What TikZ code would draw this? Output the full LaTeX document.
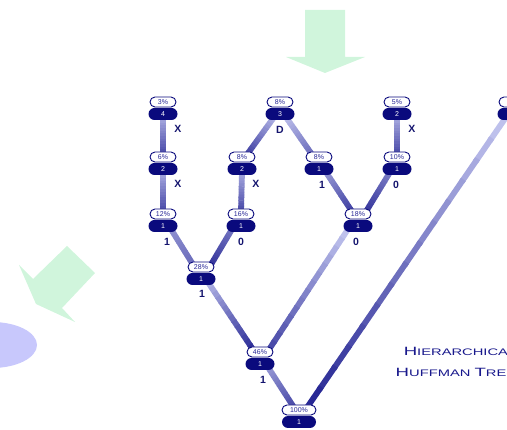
\documentclass[tikz,border=0pt]{standalone}
\usepackage{fontspec}
\setmainfont{Liberation Sans}
\usetikzlibrary{calc}
\pgfdeclarelayer{bg}
\pgfsetlayers{bg,main}
\definecolor{navy}{RGB}{10,10,125}
\definecolor{pcttext}{RGB}{40,40,150}
\definecolor{bittext}{RGB}{20,20,110}
\definecolor{edgeL}{RGB}{205,208,245}
\definecolor{edgeD}{RGB}{25,25,140}
\definecolor{mint}{RGB}{208,245,220}
\definecolor{lav}{RGB}{200,200,252}
\definecolor{titlec}{RGB}{25,25,140}
\newcommand\hn[5][]{%
  \node[pct,#1] (#2) at (#3) {#4};
  \node[num,#1] (#2d) at ([yshift=-12pt]#2.center) {#5};}
\newcommand\gedge[4]{%
  \foreach \i in {0,...,13}{%
    \pgfmathsetmacro\ta{\i/14}%
    \pgfmathsetmacro\tb{(\i+1)/14+0.01}%
    \pgfmathsetmacro\pp{#3+(#4-#3)*(\i+0.5)/14}%
    \draw[edgeline, draw=edgeD!\pp!edgeL] ($(#1)!\ta!(#2)$) -- ($(#1)!\tb!(#2)$);}}
\newcommand\bigc[1]{{\fontsize{12}{14}\selectfont #1}}
\begin{document}
\begin{tikzpicture}[x=1pt,y=-1pt,
  pct/.style={draw=navy, line width=0.9pt, fill=white, rounded corners=5pt,
    minimum width=26pt, minimum height=10pt, inner sep=0pt, text=pcttext,
    font=\fontsize{7}{8}\selectfont},
  num/.style={fill=navy, rounded corners=6pt, minimum width=29pt,
    minimum height=12pt, inner sep=0pt, text=white,
    font=\fontsize{7}{8}\selectfont},
  bit/.style={text=bittext, inner sep=0pt, font=\fontsize{10.5}{12}\selectfont\bfseries},
  edgeline/.style={line width=5.8pt},
  title/.style={text=titlec, inner sep=0pt, anchor=base, font=\fontsize{9.5}{12}\selectfont}]
\useasboundingbox (0,0) rectangle (507,430);
\clip (0,0) rectangle (507,430);

% decorative shapes
\fill[mint] (305,10) -- (345,10) -- (345,57) -- (365,57) -- (325,73) -- (286,57) -- (305,57) -- cycle;
\fill[mint] (67,246) -- (95,273) -- (62,308) -- (75,322) -- (36,304) -- (19,265) -- (33,279) -- cycle;
\fill[lav] (-8,345) ellipse [x radius=45pt, y radius=23pt];

% tree nodes
\hn{A}{163,102}{3\%}{4}
\hn{B}{163,157}{6\%}{2}
\hn{C}{163,214}{12\%}{1}
\hn{D}{242,157}{8\%}{2}
\hn{E}{241,214}{16\%}{1}
\hn{F}{201,267}{28\%}{1}
\hn{G}{280,102}{8\%}{3}
\hn{H}{319,157}{8\%}{1}
\hn{I}{397,102}{5\%}{2}
\hn{J}{397,157}{10\%}{1}
\hn{K}{358,214}{18\%}{1}
\hn{L}{260,352}{46\%}{1}
\hn[minimum width=34pt]{M}{299,410}{100\%}{1}
\hn{N}{512,102}{5\%}{}

% bit labels
\node[bit] (xa) at (178,129) {X};
\node[bit] (xb) at (178,184) {X};
\node[bit] (xd) at (256,184) {X};
\node[bit] (xi) at (412,129) {X};
\node[bit] (dg) at (280,130) {D};
\node[bit] (bc) at (167,242) {1};
\node[bit] (be) at (241,242) {0};
\node[bit] (bf) at (202,294) {1};
\node[bit] (bh) at (322,185) {1};
\node[bit] (bj) at (396,185) {0};
\node[bit] (bk) at (356,242) {0};
\node[bit] (bl) at (263,380) {1};

% title (runs off the right edge, as in the reference)
\node[title] (ttl1) at (460,356) {\scalebox{1.55}[1]{\bigc{H}IERARCHICAL}};
\node[title] (ttl2) at (456,377) {\scalebox{1.55}[1]{\bigc{H}UFFMAN \bigc{T}REE}};

% edges
\begin{pgfonlayer}{bg}
\gedge{[yshift=3pt]Ad.south}{[yshift=-3pt]B.north}{20}{75}
\gedge{[yshift=3pt]Bd.south}{[yshift=-3pt]C.north}{20}{75}
\gedge{[yshift=3pt]Dd.south}{[yshift=-3pt]E.north}{20}{75}
\gedge{[yshift=3pt]Id.south}{[yshift=-3pt]J.north}{20}{75}
\gedge{[xshift=-6pt,yshift=3pt]Gd.south}{[xshift=5pt,yshift=-3pt]D.north}{15}{80}
\gedge{[xshift=6pt,yshift=3pt]Gd.south}{[xshift=-7pt,yshift=-3pt]H.north}{10}{55}
\gedge{[xshift=7pt,yshift=3pt]Hd.south}{[xshift=-6pt,yshift=-3pt]K.north}{30}{80}
\gedge{[xshift=-7pt,yshift=3pt]Jd.south}{[xshift=8pt,yshift=-3pt]K.north}{45}{85}
\gedge{[xshift=8pt,yshift=3pt]Cd.south}{[xshift=-8pt,yshift=-3pt]F.north}{35}{55}
\gedge{[xshift=-9pt,yshift=3pt]Ed.south}{[xshift=10pt,yshift=-3pt]F.north}{50}{85}
\gedge{[xshift=-10pt,yshift=3pt]Kd.south}{[xshift=9pt,yshift=-3pt]L.north}{5}{75}
\gedge{[xshift=7pt,yshift=3pt]Fd.south}{[xshift=-7pt,yshift=-3pt]L.north}{15}{90}
\gedge{[xshift=8pt,yshift=3pt]Ld.south}{[xshift=-5pt,yshift=-3pt]M.north}{30}{75}
\gedge{[xshift=-6pt,yshift=3pt]Nd.south}{[xshift=8pt,yshift=-3pt]M.north}{5}{95}
\end{pgfonlayer}
\end{tikzpicture}
\end{document}
